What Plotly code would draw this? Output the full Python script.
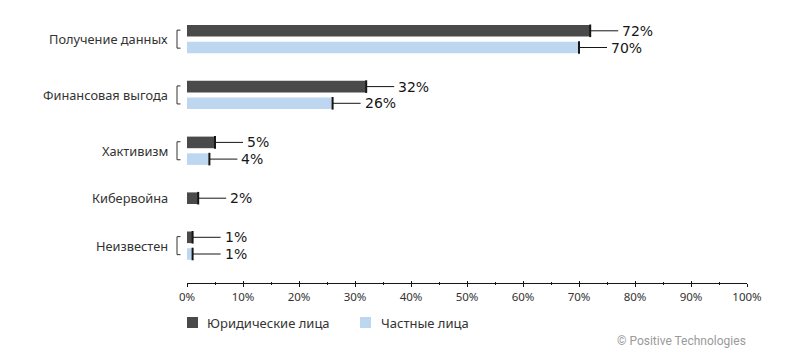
import plotly.graph_objects as go

# ---------------- data ----------------
categories = ["Получение данных", "Финансовая выгода", "Хактивизм", "Кибервойна", "Неизвестен"]
legal_entities = [72, 32, 5, 2, 1]
individuals = [70, 26, 4, None, 1]
series_names = ["Юридические лица", "Частные лица"]
x_tick_values = list(range(0, 101, 10))
x_tick_labels = [f"{v}%" for v in x_tick_values]
copyright_text = "© Positive Technologies"

# ---------------- layout / style constants ----------------
W, H = 793, 355
PLOT_LEFT, PLOT_RIGHT, PLOT_TOP, PLOT_BOTTOM = 187, 747, 20, 283
FIRST_TOP = 25.0
BAR_H = 11.6
INNER_GAP = 5.1
GROUP_GAP = 27.5
LEADER = 5  # leader line length in axis units (%)
DARK = "#4a4a4a"
LIGHT = "#bcd7ef"
INK = "#161616"
TEXT = "#333333"
FONT = "Noto Sans"
VALUE_FONT = "DejaVu Sans"


def px_x(p):
    return (p - PLOT_LEFT) / (PLOT_RIGHT - PLOT_LEFT)


def px_y(p):
    return (PLOT_BOTTOM - p) / (PLOT_BOTTOM - PLOT_TOP)


# vertical positions derived from how many bars each category has
dark_pos, light_pos, centers, pair_flags = [], [], [], []
top = FIRST_TOP
for a, b in zip(legal_entities, individuals):
    n = sum(v is not None for v in (a, b))
    dark_pos.append(top + BAR_H / 2)
    if n == 2:
        light_pos.append(top + BAR_H * 1.5 + INNER_GAP)
        h = 2 * BAR_H + INNER_GAP
    else:
        light_pos.append(None)
        h = BAR_H
    centers.append(top + h / 2)
    pair_flags.append(n == 2)
    top += h + GROUP_GAP

fig = go.Figure()
annotations = []
shapes = []

for vals, poss, color, name in [
    (legal_entities, dark_pos, DARK, series_names[0]),
    (individuals, light_pos, LIGHT, series_names[1]),
]:
    xs = [v for v in vals if v is not None]
    ys = [p for v, p in zip(vals, poss) if v is not None]
    fig.add_trace(go.Bar(
        x=xs, y=ys, orientation="h", width=BAR_H, name=name,
        marker=dict(color=color, line=dict(width=0)),
        error_x=dict(type="data", symmetric=False, array=[LEADER] * len(xs),
                     arrayminus=[0] * len(xs), color=INK, thickness=1, width=0),
        showlegend=False, hoverinfo="x+name",
    ))
    fig.add_trace(go.Scatter(
        x=xs, y=ys, mode="markers", showlegend=False, hoverinfo="skip",
        marker=dict(symbol="line-ns", size=9, color=INK, line=dict(width=2, color=INK)),
    ))
    for v, p in zip(xs, ys):
        annotations.append(dict(
            x=v + LEADER, y=p, xref="x", yref="y", text=f"{v}%", showarrow=False,
            xanchor="left", yanchor="middle", xshift=2,
            font=dict(family=VALUE_FONT, size=14, color=INK),
        ))

# category labels and brackets
for cat, c, pair in zip(categories, centers, pair_flags):
    annotations.append(dict(
        x=0, y=c, xref="paper", yref="y", text=cat, showarrow=False,
        xanchor="right", yanchor="middle", xshift=-17,
        font=dict(family=FONT, size=12.8, color=TEXT),
    ))
    if pair:
        x0, x1 = px_x(177), px_x(180.5)
        shapes.append(dict(
            type="path", xref="paper", yref="y",
            path=f"M {x1},{c-9} L {x0},{c-9} L {x0},{c+9} L {x1},{c+9}",
            line=dict(color=TEXT, width=1),
        ))

# manual legend
for (lx, tx), color, name in zip([(187, 205), (360, 378.5)], [DARK, LIGHT], series_names):
    shapes.append(dict(type="rect", xref="paper", yref="paper",
                       x0=px_x(lx), x1=px_x(lx + 11), y0=px_y(317), y1=px_y(328),
                       fillcolor=color, line=dict(width=0)))
    annotations.append(dict(x=px_x(tx), y=px_y(322.5), xref="paper", yref="paper",
                            text=name, showarrow=False, xanchor="left", yanchor="middle",
                            font=dict(family=FONT, size=13, color=TEXT)))

annotations.append(dict(x=px_x(748), y=px_y(341), xref="paper", yref="paper",
                        text=copyright_text, showarrow=False, xanchor="right", yanchor="middle",
                        font=dict(family="Roboto", size=12, color="#9a9a9a")))

# invisible trace for overlay axis (inside ticks)
fig.add_trace(go.Scatter(x=[None], y=[None], xaxis="x2", showlegend=False, hoverinfo="skip"))

fig.update_layout(
    width=W, height=H,
    margin=dict(l=PLOT_LEFT, r=W - PLOT_RIGHT, t=PLOT_TOP, b=H - PLOT_BOTTOM, pad=0),
    paper_bgcolor="white", plot_bgcolor="white",
    barmode="overlay",
    showlegend=False,
    xaxis=dict(range=[0, 100], tickvals=x_tick_values, ticktext=x_tick_labels,
               ticks="outside", ticklen=3, tickwidth=1, tickcolor=INK,
               showline=True, linecolor=INK, linewidth=1, showgrid=False, zeroline=False,
               minor=dict(tickvals=[v + 5 for v in x_tick_values[:-1]], ticks="outside",
                          ticklen=1, tickcolor=INK, showgrid=False),
               tickfont=dict(family=FONT, size=11.5, color=TEXT), fixedrange=True),
    xaxis2=dict(range=[0, 100], overlaying="x", anchor="y", side="bottom",
                tickvals=x_tick_values, ticks="inside", ticklen=2, tickcolor=INK,
                showticklabels=False, showgrid=False, zeroline=False, showline=False,
                minor=dict(tickvals=[v + 5 for v in x_tick_values[:-1]], ticks="inside",
                           ticklen=1, tickcolor=INK, showgrid=False)),
    yaxis=dict(range=[PLOT_BOTTOM, PLOT_TOP], visible=False, fixedrange=True),
    annotations=annotations,
    shapes=shapes,
)

fig.write_html("out.html", config={"displayModeBar": False},
               post_script="document.body.style.margin='0';document.body.style.overflow='hidden';")
